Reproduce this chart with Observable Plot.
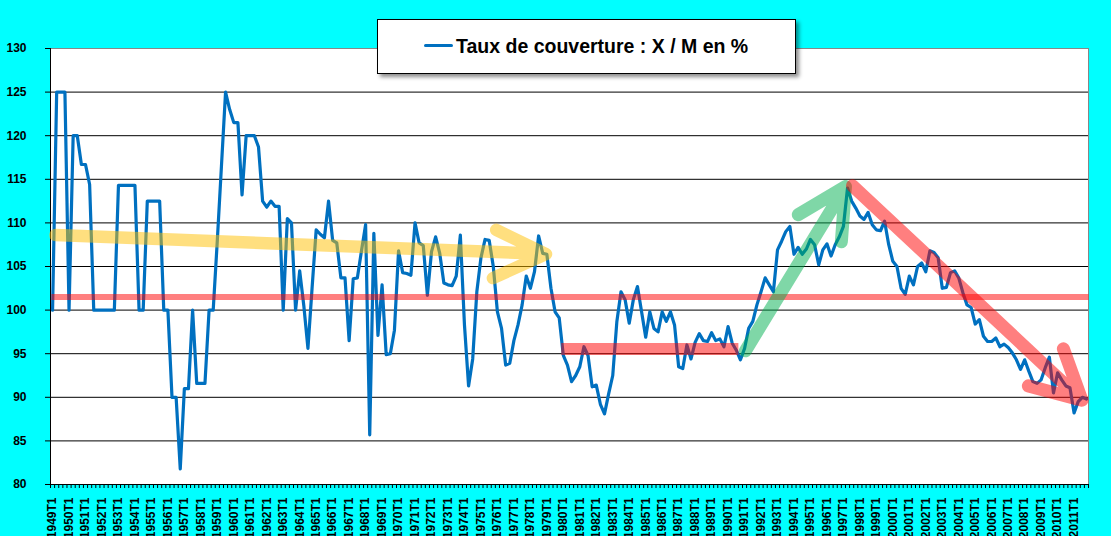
<!DOCTYPE html>
<html>
<head>
<meta charset="utf-8">
<script src="https://cdn.jsdelivr.net/npm/d3@7"></script>
<script src="https://cdn.jsdelivr.net/npm/@observablehq/plot@0.6"></script>
<style>
html, body { margin: 0; padding: 0; background: #00FFFF; width: 1111px; height: 536px; overflow: hidden; }
#wrap { position: relative; width: 1111px; height: 536px; }
#chart svg { display: block; }
#legend { position: absolute; left: 377px; top: 19px; width: 417px; height: 53px; background: #fff;
  border: 1px solid #000; box-shadow: 3px 3px 4px rgba(0,0,0,0.45);
  font-family: "Liberation Sans", Arial, sans-serif; }
#legend .swatch { position: absolute; left: 46px; top: 23.5px; width: 29px; height: 3.5px; background: #0070C0; border-radius: 2px; }
#legend .label { position: absolute; left: 78px; top: 16.8px; font-size: 19.5px; line-height: 19.5px; font-weight: bold; color: #000; white-space: nowrap; }
</style>
</head>
<body>
<div id="wrap">
  <div id="chart"></div>
  <div id="legend"><div class="swatch"></div><div class="label">Taux de couverture : X / M en %</div></div>
</div>
<script>
// ---- Data ----
const years = d3.range(1949, 2012);
const quarters = years.flatMap(y => [1, 2, 3, 4].map(q => `${y}T${q}`));

const couverture = [
  100, 125, 125, 125, 100, 120, 120, 116.7, 116.7, 114.4,
  100, 100, 100, 100, 100, 100, 114.3, 114.3, 114.3, 114.3,
  114.3, 100, 100, 112.5, 112.5, 112.5, 112.5, 100, 100, 90,
  90, 81.8, 91, 91, 100, 91.6, 91.6, 91.6, 100, 100,
  108, 116.5, 125, 123, 121.5, 121.5, 113.2, 120, 120, 120,
  118.7, 112.5, 111.8, 112.5, 111.9, 111.9, 100, 110.5, 110, 100,
  104.5, 100.5, 95.6, 102.5, 109.2, 108.7, 108.3, 112.5, 108, 107.7,
  103.7, 103.7, 96.5, 103.6, 103.7, 106.8, 109.8, 85.7, 108.8, 97.1,
  102.9, 94.9, 95, 97.7, 106.8, 104.3, 104.2, 104, 110, 107.7,
  107.4, 101.7, 106.7, 108.4, 106.5, 103.1, 102.9, 102.8, 103.9, 108.6,
  98.3, 91.3, 94.4, 102.1, 106, 108.1, 108, 105, 99.8, 97.9,
  93.7, 93.9, 96.5, 98.3, 100.6, 103.9, 102.5, 104.4, 108.5, 106.5,
  106.4, 102.5, 99.8, 99.1, 94.8, 93.7, 91.8, 92.5, 93.5, 95.8,
  94.8, 91.2, 91.4, 89.2, 88.1, 90.4, 92.5, 98.7, 102.1, 101.2,
  98.5, 101.2, 102.7, 99.8, 96.9, 99.8, 97.9, 97.5, 99.8, 98.7,
  99.8, 98.3, 93.5, 93.3, 96, 94.4, 96.3, 97.3, 96.5, 96.4,
  97.4, 96.5, 96.7, 95.8, 98.1, 96.2, 95.4, 94.3, 95.6, 97.9,
  98.7, 100.6, 102.1, 103.7, 102.9, 102.1, 106.9, 107.9, 109, 109.6,
  106.4, 107.2, 106.4, 107, 108.1, 107.5, 105.2, 106.9, 107.6, 106.2,
  107.5, 108.4, 109.6, 114, 112.5, 111.7, 110.8, 110.4, 111.2, 109.8,
  109.2, 109.1, 110.2, 107.5, 105.6, 105, 102.5, 101.8, 103.9, 102.9,
  105, 105.4, 104.4, 106.8, 106.6, 106, 102.5, 102.6, 104.3, 104.5,
  103.7, 102, 100.6, 100.3, 98.4, 98.9, 97, 96.4, 96.4, 96.8,
  95.8, 96.1, 95.7, 95.1, 94.3, 93.2, 94.3, 93, 91.8, 91.6,
  92, 93.4, 94.6, 90.5, 92.8, 92, 91.3, 91.1, 88.2, 89.5,
  90, 89.8
];

const yTicks = [80, 85, 90, 95, 100, 105, 110, 115, 120, 125, 130];
const gridValues = [85, 90, 95, 100, 105, 110, 115, 120, 125];

// Annotation shapes in data units [quarter index, value]; NaN separates sub-strokes
const yellowArrow = [[0.7, 108.6], [119.6, 106.45], [NaN, NaN], [107.7, 109.2], [119.8, 106.43], [106.9, 103.67]];
const redFlat = [[-0.3, 101.5], [251.5, 101.5]];
const redLow = [[123.5, 95.55], [166.5, 95.55]];
const greenArrow = [[168.2, 95.33], [192.5, 114.16], [NaN, NaN], [181.05, 110.94], [192.5, 114.16], [191.5, 107.84]];
const redArrow = [[194.2, 114.27], [249.9, 89.67], [NaN, NaN], [245.4, 95.56], [249.9, 89.67], [236.9, 91.31]];

// ---- Chart ----
const n = quarters.length;
const series = couverture.map((v, i) => ({i, v}));
const font = "'Liberation Sans', Arial, sans-serif";

const chart = Plot.plot({
  width: 1111,
  height: 536,
  marginLeft: 50,
  marginRight: 23,
  marginTop: 48,
  marginBottom: 52,
  style: {background: "transparent", fontFamily: font, color: "black", overflow: "visible"},
  x: {type: "linear", domain: [-0.5, n - 0.5], label: null},
  y: {domain: [80, 130], label: null},
  marks: [
    Plot.frame({fill: "white", stroke: "#888"}),
    Plot.ruleY(gridValues, {stroke: "black", strokeWidth: 1}),
    Plot.axisY(yTicks, {tickSize: 5, tickPadding: 19, fontSize: 12, fontWeight: "bold", label: null}),
    Plot.axisX(d3.range(-0.5, n, 1), {tickSize: 4, tickFormat: () => "", label: null}),
    Plot.axisX(d3.range(0, n, 4), {tickSize: 0, tickPadding: 13, tickRotate: -90, tickFormat: i => quarters[i], fontSize: 12, fontWeight: "bold", label: null}),
    Plot.ruleY([80], {stroke: "black", strokeWidth: 1}),
    Plot.ruleX([-0.5], {stroke: "black", strokeWidth: 1}),
    Plot.line(series, {x: "i", y: "v", stroke: "#0070C0", strokeWidth: 3.2, strokeLinejoin: "round", strokeLinecap: "round"}),
    Plot.line(redFlat, {x: d => d[0], y: d => d[1], stroke: "#FF0000", strokeOpacity: 0.5, strokeWidth: 6, strokeLinecap: "butt"}),
    Plot.line(redLow, {x: d => d[0], y: d => d[1], stroke: "#FF0000", strokeOpacity: 0.5, strokeWidth: 12, strokeLinecap: "butt"}),
    Plot.line(yellowArrow, {x: d => d[0], y: d => d[1], stroke: "#FFC000", strokeOpacity: 0.5, strokeWidth: 12.5, strokeLinecap: "round", strokeLinejoin: "round"}),
    Plot.line(greenArrow, {x: d => d[0], y: d => d[1], stroke: "#00B050", strokeOpacity: 0.5, strokeWidth: 13, strokeLinecap: "round", strokeLinejoin: "round"}),
    Plot.line(redArrow, {x: d => d[0], y: d => d[1], stroke: "#FF0000", strokeOpacity: 0.5, strokeWidth: 13, strokeLinecap: "round", strokeLinejoin: "round"})
  ]
});

document.getElementById("chart").appendChild(chart);
</script>
</body>
</html>
